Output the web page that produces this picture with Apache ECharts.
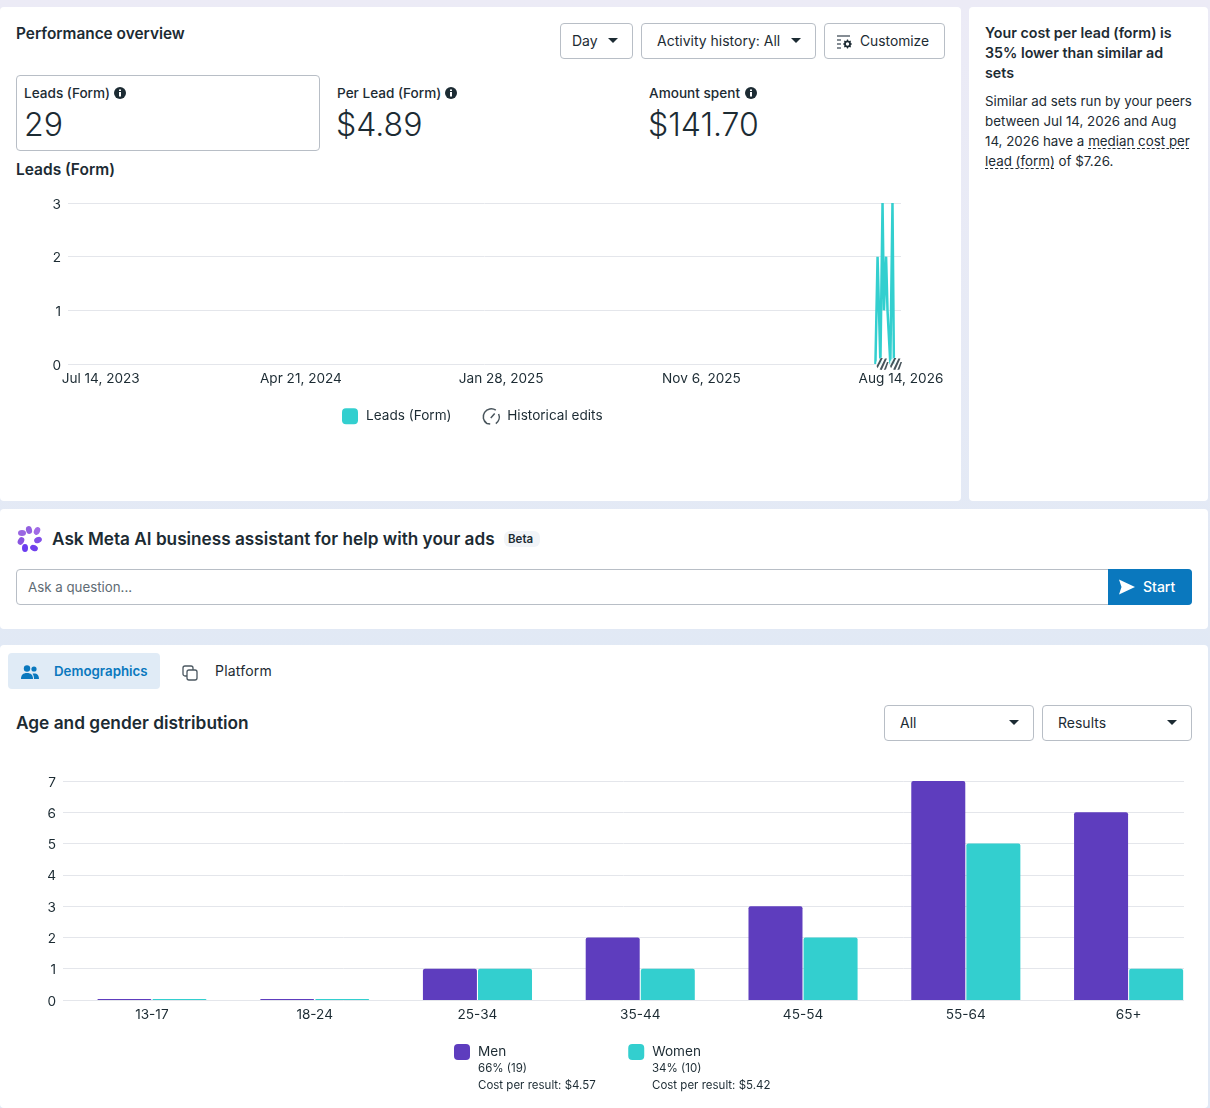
<!DOCTYPE html>
<html>
<head>
<meta charset="utf-8">
<title>Performance overview</title>
<script src="https://cdn.jsdelivr.net/npm/echarts@6/dist/echarts.min.js"></script>
<style>
html, body { margin: 0; padding: 0; }
body { width: 1210px; height: 1108px; position: relative; overflow: hidden; background: linear-gradient(#ecebf6, #e1e9f5 60%); font-family: Inter, Roboto, sans-serif; color: #1c2b33; }
.card { position: absolute; background: #fff; border-radius: 4px; }
.t { position: absolute; white-space: nowrap; line-height: 20px; font-size: 14px; }
.b { font-weight: 600; }
.m { font-size: 13.6px; font-weight: 500; }
.big { font-size: 32px; line-height: 40px; font-weight: 300; }
.box { position: absolute; box-sizing: border-box; border: 1px solid #b8bec6; border-radius: 4px; background: #fff; }
.caret { position: absolute; width: 0; height: 0; border-left: 5.5px solid transparent; border-right: 5.5px solid transparent; border-top: 5.5px solid #1c2b33; }
.sm { font-size: 11.5px; }
.body { font-size: 13.35px; }
svg { position: absolute; }
u { text-decoration: underline dashed 1px; text-underline-offset: 2px; }
#leadsChart { position: absolute; left: 0; top: 190px; width: 961px; height: 240px; }
#ageChart { position: absolute; left: 0; top: 770px; width: 1210px; height: 300px; }
</style>
</head>
<body>
<div class="card" style="left:0;top:7px;width:961px;height:494px"></div>
<div class="card" style="left:969px;top:7px;width:239px;height:494px"></div>
<div class="card" style="left:0;top:509px;width:1208px;height:120px"></div>
<div class="card" style="left:0;top:645px;width:1208px;height:463px"></div>

<div class="t b" style="left:16px;top:24px;font-size:15.4px">Performance overview</div>
<div class="box" style="left:560px;top:23px;width:73px;height:36px"></div>
<div class="t" style="left:572px;top:31px">Day</div><div class="caret" style="left:608px;top:38px"></div>
<div class="box" style="left:641px;top:23px;width:175px;height:36px"></div>
<div class="t" style="left:657px;top:31px">Activity history: All</div><div class="caret" style="left:791px;top:38px"></div>
<div class="box" style="left:824px;top:23px;width:121px;height:36px"></div>
<svg style="left:836px;top:35px" width="17" height="14" viewBox="0 0 17 14"><path d="M1 1h13M1 5h4M1 9h4M1 13h4" stroke="#5d6871" stroke-width="1.3" fill="none"/><circle cx="11.500" cy="9" r="2.600" fill="none" stroke="#1c2b33" stroke-width="1.800"/><path d="M11.500 4.500v2M11.500 11.500v2M7 9h2M14 9h2M8.300 5.800l1.400 1.400M13.300 10.800l1.400 1.400M8.300 12.200l1.400-1.400M13.300 7.200l1.400-1.400" stroke="#1c2b33" stroke-width="1.200"/></svg>
<div class="t" style="left:860px;top:31px;font-size:13.8px">Customize</div>

<div class="box" style="left:16px;top:75px;width:304px;height:76px"></div>
<div class="t m" style="left:24px;top:83px">Leads (Form)</div>
<svg style="left:114px;top:87px" width="12" height="12" viewBox="0 0 12 12"><circle cx="6" cy="6" r="6" fill="#1c2b33"/><path d="M5 5h2v4.500H5zM5 2.500h2v1.600H5z" fill="#fff"/></svg>
<div class="t big" style="left:24px;top:105px">29</div>
<div class="t m" style="left:337px;top:83px">Per Lead (Form)</div>
<svg style="left:445px;top:87px" width="12" height="12" viewBox="0 0 12 12"><circle cx="6" cy="6" r="6" fill="#1c2b33"/><path d="M5 5h2v4.500H5zM5 2.500h2v1.600H5z" fill="#fff"/></svg>
<div class="t big" style="left:336px;top:105px">$4.89</div>
<div class="t m" style="left:649px;top:83px">Amount spent</div>
<svg style="left:745px;top:87px" width="12" height="12" viewBox="0 0 12 12"><circle cx="6" cy="6" r="6" fill="#1c2b33"/><path d="M5 5h2v4.500H5zM5 2.500h2v1.600H5z" fill="#fff"/></svg>
<div class="t big" style="left:648px;top:105px">$141.70</div>
<div class="t b" style="left:16px;top:160px;font-size:15.5px">Leads (Form)</div>

<div class="t b" style="left:985px;top:23px;font-size:14.25px">Your cost per lead (form) is</div>
<div class="t b" style="left:985px;top:43px;font-size:14.25px">35% lower than similar ad</div>
<div class="t b" style="left:985px;top:63px;font-size:14.25px">sets</div>
<div class="t body" style="left:985px;top:91px">Similar ad sets run by your peers</div>
<div class="t body" style="left:985px;top:111px">between Jul 14, 2026 and Aug</div>
<div class="t body" style="left:985px;top:131px">14, 2026 have a <u>median cost per</u></div>
<div class="t body" style="left:985px;top:151px"><u>lead (form)</u> of $7.26.</div>

<svg style="left:16px;top:525px" width="28" height="28" viewBox="0 0 28 28">
<ellipse cx="13" cy="5" rx="3" ry="4" fill="#9360e0" transform="rotate(-15 13 5)"/>
<ellipse cx="21" cy="6" rx="3" ry="4" fill="#a16be6" transform="rotate(25 21 6)"/>
<ellipse cx="6" cy="8" rx="4" ry="3" fill="#9a66e2"/>
<ellipse cx="5" cy="16" rx="3" ry="4" fill="#8a55e0" transform="rotate(30 5 16)"/>
<ellipse cx="22" cy="15" rx="4" ry="3" fill="#8350e8" transform="rotate(-25 22 15)"/>
<ellipse cx="9" cy="23" rx="3" ry="4" fill="#6a3cf0"/>
<ellipse cx="18" cy="23" rx="4" ry="3" fill="#7040ec" transform="rotate(25 18 23)"/>
</svg>
<div class="t b" style="left:52px;top:529px;font-size:17.2px">Ask Meta AI business assistant for help with your ads</div>
<div style="position:absolute;left:504px;top:531px;width:36px;height:16px;border-radius:6px;background:#f1f4f8"></div>
<div class="t b" style="left:508px;top:529px;font-size:11.5px">Beta</div>
<div class="box" style="left:16px;top:569px;width:1176px;height:36px"></div>
<div style="position:absolute;left:1108px;top:569px;width:84px;height:36px;background:#0a78be;border-radius:0 4px 4px 0"></div>
<div class="t" style="left:28px;top:577px;color:#606b74;font-size:13.3px">Ask a question...</div>
<svg style="left:1118px;top:579px" width="18" height="16" viewBox="0 0 18 16"><path d="M1 0.500 L17 8 L1 15.500 L3.500 8 Z" fill="#fff"/></svg>
<div class="t" style="left:1143px;top:577px;color:#fff;font-weight:500">Start</div>

<div style="position:absolute;left:8px;top:653px;width:152px;height:36px;border-radius:4px;background:#e0ebf6"></div>
<svg style="left:21px;top:665px" width="18" height="14" viewBox="0 0 18 14"><circle cx="6" cy="3.500" r="3.200" fill="#0a78be"/><circle cx="13" cy="4" r="2.600" fill="#0a78be"/><path d="M0 14c0-4 2-6 6-6s6 2 6 6zM13 14h5c0-3.500-1.500-5.500-5-5.500-.6 0-1 .1-1.500.2 1 1.200 1.500 3 1.500 5.300z" fill="#0a78be"/></svg>
<div class="t b" style="left:54px;top:661px;color:#0a78be;font-size:13.3px">Demographics</div>
<svg style="left:182px;top:665px" width="16" height="16" viewBox="0 0 16 16"><rect x="5" y="5" width="10" height="10" rx="2" fill="none" stroke="#4b5760" stroke-width="1.300"/><path d="M5 11H3a2 2 0 0 1-2-2V3a2 2 0 0 1 2-2h6a2 2 0 0 1 2 2v2" fill="none" stroke="#4b5760" stroke-width="1.300"/></svg>
<div class="t" style="left:215px;top:661px;letter-spacing:0.2px">Platform</div>
<div class="t b" style="left:16px;top:713px;font-size:17.3px">Age and gender distribution</div>
<div class="box" style="left:884px;top:705px;width:150px;height:36px"></div>
<div class="t" style="left:900px;top:713px">All</div><div class="caret" style="left:1009px;top:720px"></div>
<div class="box" style="left:1042px;top:705px;width:150px;height:36px"></div>
<div class="t" style="left:1058px;top:713px">Results</div><div class="caret" style="left:1167px;top:720px"></div>

<div id="leadsChart"></div>
<div id="ageChart"></div>

<div class="t sm" style="left:478px;top:1058px">66% (19)</div>
<div class="t sm" style="left:478px;top:1075px">Cost per result: $4.57</div>
<div class="t sm" style="left:652px;top:1058px">34% (10)</div>
<div class="t sm" style="left:652px;top:1075px">Cost per result: $5.42</div>

<script>
// leads over time
var tickDates = ['2023-07-14', '2024-04-21', '2025-01-28', '2025-11-06', '2026-08-14'];
var tickLabels = ['Jul 14, 2023', 'Apr 21, 2024', 'Jan 28, 2025', 'Nov 6, 2025', 'Aug 14, 2026'];
var leadDates = ['2026-07-09', '2026-07-12', '2026-07-14', '2026-07-16', '2026-07-19', '2026-07-21', '2026-07-22',
    '2026-07-24', '2026-07-26', '2026-07-28', '2026-07-30', '2026-08-02', '2026-08-04'];
var leadValues = [0, 2, 2, 0, 3, 1, 1, 2, 1, 1, 0, 3, 0];
var editDates = ['2026-07-19', '2026-08-07'];

// age and gender distribution
var ageGroups = ['13-17', '18-24', '25-34', '35-44', '45-54', '55-64', '65+'];
var menValues = [0, 0, 1, 2, 3, 7, 6];
var womenValues = [0, 0, 1, 1, 2, 5, 1];

var textColor = '#1c2b33';
var gridColor = '#e4e6eb';
var teal = '#33cfcf';
var purple = '#5e3dbe';
var fontName = 'Inter, Roboto, sans-serif';
var hatchPath = 'path://M1 8L5 1H7L2 10ZM4 11L9 1.500H11L6 11.500ZM8 11.500L11 4.500H12.500L10 11Z';

// y tick labels sit a pixel lower than the default
var yLabel = {
    margin: 7,
    formatter: '{v|{value}}',
    rich: { v: { color: textColor, fontSize: 13.6, padding: [3, 0, 0, 0], fontFamily: fontName } }
};

function toTime(d) {
    return Date.parse(d + 'T00:00:00Z');
}

var tickValues = tickDates.map(toTime);
var editPoints = editDates.map(function (d) {
    return [toTime(d), 0];
});

var leadsChart = echarts.init(document.getElementById('leadsChart'));
leadsChart.setOption({
    animation: false,
    textStyle: { fontFamily: fontName },
    grid: { left: 68, top: 13, width: 833, height: 161 },
    legend: {
        left: 337,
        top: 213,
        itemWidth: 16,
        itemHeight: 16,
        itemGap: 31,
        selectedMode: false,
        textStyle: { color: textColor, fontSize: 13.6, padding: [0, 0, 0, 3], fontFamily: fontName },
        data: [
            { name: 'Leads (Form)', icon: 'roundRect' },
            {
                name: 'Historical edits',
                icon: 'path://M12 2.500A7 7 0 1 0 4 14.500M4 14.500L1.500 11.500M4 14.500L7 14.800M14.500 6A7 7 0 0 1 12 14.500M11 5.500L7.500 9.500',
                itemStyle: { color: 'transparent', borderColor: textColor, borderWidth: 1.5 }
            }
        ]
    },
    xAxis: {
        type: 'value',
        min: toTime('2023-05-29'),
        max: toTime('2026-08-14'),
        splitLine: { show: false },
        axisLine: { show: false },
        axisTick: { show: false },
        axisLabel: {
            customValues: tickValues,
            color: textColor,
            fontSize: 13.6,
            margin: 8,
            formatter: function (v) {
                return tickLabels[tickValues.indexOf(v)];
            }
        }
    },
    yAxis: {
        type: 'value',
        min: 0,
        max: 3,
        interval: 1,
        axisLine: { show: false },
        axisTick: { show: false },
        axisLabel: yLabel,
        splitLine: { lineStyle: { color: gridColor } }
    },
    series: [{
        name: 'Leads (Form)',
        type: 'line',
        showSymbol: false,
        clip: false,
        lineStyle: { color: teal, width: 2.5 },
        itemStyle: { color: teal },
        data: leadDates.map(function (d, i) {
            return [toTime(d), leadValues[i]];
        })
    }, {
        name: 'Historical edits',
        type: 'scatter',
        symbolSize: 13,
        clip: false,
        z: 5,
        itemStyle: { color: '#fff' },
        data: editPoints
    }, {
        name: 'Historical edits hatch',
        type: 'scatter',
        symbol: hatchPath,
        symbolSize: 12,
        clip: false,
        z: 6,
        itemStyle: { color: textColor },
        data: editPoints
    }]
});

var ageChart = echarts.init(document.getElementById('ageChart'));
ageChart.setOption({
    animation: false,
    textStyle: { fontFamily: fontName },
    grid: [
        { left: 70.5, top: 11, width: 1141, height: 219 },
        { left: 63, top: 11, width: 1121, height: 219 }
    ],
    legend: {
        left: 449,
        top: 269,
        itemWidth: 16,
        itemHeight: 16,
        itemGap: 122,
        icon: 'roundRect',
        selectedMode: false,
        textStyle: { color: textColor, fontSize: 13.6, padding: [0, 0, 0, 3], fontFamily: fontName },
        data: ['Men', 'Women']
    },
    xAxis: [{
        type: 'category',
        gridIndex: 0,
        data: ageGroups,
        axisLine: { show: false },
        axisTick: { show: false },
        axisLabel: { color: textColor, fontSize: 13.6, margin: 8 }
    }, {
        type: 'category',
        gridIndex: 1,
        show: false,
        data: ageGroups
    }],
    yAxis: [{
        type: 'value',
        gridIndex: 0,
        min: 0,
        max: 7,
        interval: 1,
        show: false
    }, {
        type: 'value',
        gridIndex: 1,
        min: 0,
        max: 7,
        interval: 1,
        axisLabel: yLabel,
        splitLine: { lineStyle: { color: gridColor } }
    }],
    series: [{
        name: 'Men',
        type: 'bar',
        barWidth: 54,
        barGap: '2%',
        barMinHeight: 1,
        itemStyle: { color: purple, borderRadius: [2, 2, 0, 0] },
        data: menValues
    }, {
        name: 'Women',
        type: 'bar',
        barWidth: 54,
        barGap: '2%',
        barMinHeight: 1,
        itemStyle: { color: teal, borderRadius: [2, 2, 0, 0] },
        data: womenValues
    }]
});
</script>
</body>
</html>
